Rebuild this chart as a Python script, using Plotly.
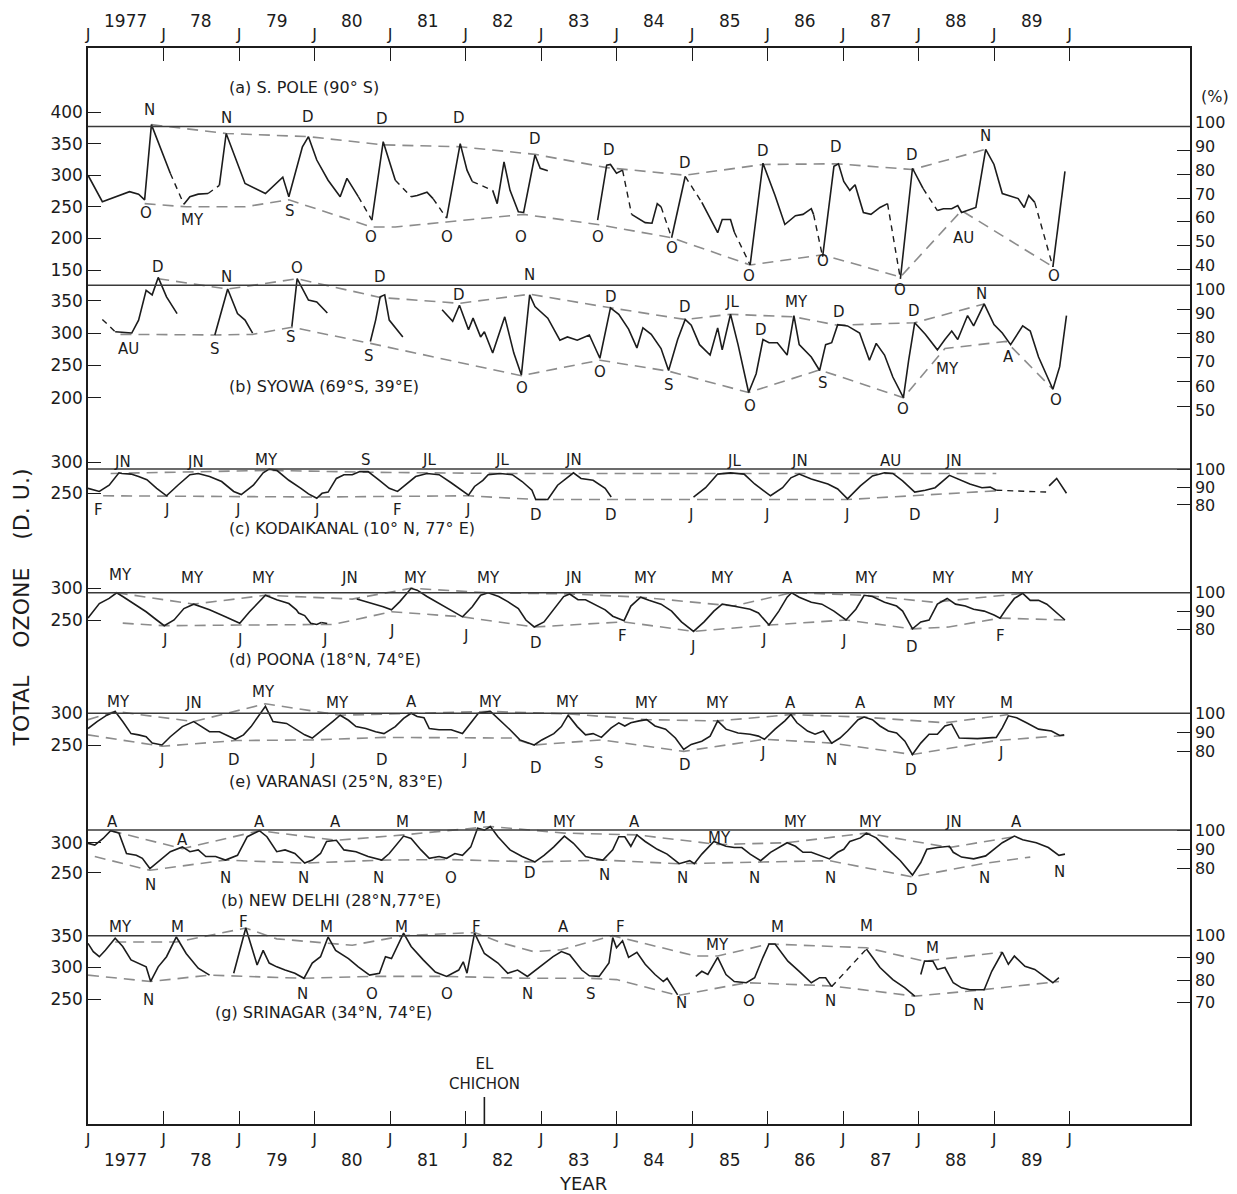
import plotly.graph_objects as go

# ---------------- axis labels ----------------
year_starts = list(range(1977, 1990))
year_text = ["1977", "78", "79", "80", "81", "82", "83", "84", "85", "86", "87", "88", "89"]
jan_ticks = list(range(1977, 1991))
jan_text = ["J"] * len(jan_ticks)
el_chichon_t = 1982.25

# ---------------- (a) South Pole ----------------
spole_t = [1977.00, 1977.19, 1977.55, 1977.67, 1977.75, 1977.84, 1978.09, 1978.27, 1978.35, 1978.46,
           1978.59, 1978.74, 1978.83, 1979.08, 1979.35, 1979.58, 1979.66, 1979.84, 1979.92, 1980.03,
           1980.18, 1980.34, 1980.43, 1980.58, 1980.76, 1980.91, 1981.07, 1981.28, 1981.36, 1981.49,
           1981.57, 1981.75, 1981.93, 1982.02, 1982.09, 1982.36, 1982.42, 1982.51, 1982.59, 1982.70,
           1982.77, 1982.92, 1982.99, 1983.09, 1983.75, 1983.87, 1983.92, 1984.00, 1984.08, 1984.20,
           1984.27, 1984.38, 1984.47, 1984.54, 1984.59, 1984.73, 1984.91, 1985.13, 1985.34, 1985.40,
           1985.51, 1985.56, 1985.77, 1985.94, 1986.10, 1986.23, 1986.37, 1986.47, 1986.58, 1986.61,
           1986.73, 1986.88, 1986.94, 1987.01, 1987.09, 1987.16, 1987.27, 1987.37, 1987.49, 1987.59,
           1987.76, 1987.92, 1988.06, 1988.25, 1988.33, 1988.44, 1988.52, 1988.57, 1988.76, 1988.89,
           1989.00, 1989.11, 1989.32, 1989.40, 1989.46, 1989.54, 1989.78, 1989.94]
spole_v = [300, 258, 274, 270, 261, 380, 303, 254, 266, 270,
           271, 284, 366, 287, 271, 297, 266, 345, 361, 324,
           292, 266, 295, 266, 229, 353, 292, 266, 268, 273,
           263, 232, 350, 308, 290, 276, 255, 321, 276, 242,
           241, 332, 311, 307, 229, 316, 317, 303, 308, 238,
           233, 225, 224, 255, 250, 201, 298, 257, 209, 230,
           230, 210, 158, 319, 268, 222, 236, 238, 247, 238,
           171, 314, 318, 290, 276, 285, 241, 238, 249, 255,
           136, 311, 279, 244, 247, 247, 252, 241, 249, 341,
           317, 271, 263, 249, 268, 257, 155, 306]
# segment leading into each point: m = measured, i = interpolated, _ = no data
spole_q = "-mmmmmmimm mimmmmmmmm mmmmimmimm mimmmimmmm mmmm_mmmmi mmmmmimimm mmimmmmmmm immmmmmmmm immimmmmmm mmmmmmim"
spole_up_t = [1977.84, 1978.83, 1979.92, 1980.91, 1981.93, 1982.92, 1983.87, 1984.91, 1985.94, 1986.91, 1987.92, 1988.89]
spole_up_v = [380, 366, 361, 348, 345, 333, 312, 300, 317, 318, 309, 341]
spole_lo_t = [1977.75, 1978.30, 1979.08, 1979.66, 1980.76, 1981.07, 1981.75, 1982.77, 1983.75, 1984.73,
              1985.77, 1986.20, 1986.73, 1987.76, 1988.57, 1989.78]
spole_lo_v = [255, 250, 250, 261, 218, 218, 226, 238, 222, 201, 158, 165, 174, 139, 244, 155]
spole_lab = [(1977.82, "N", 403), (1978.83, "N", 390), (1979.92, "D", 392), (1980.89, "D", 389),
             (1981.91, "D", 391), (1982.92, "D", 358), (1983.90, "D", 340), (1984.91, "D", 319),
             (1985.94, "D", 338), (1986.91, "D", 344), (1987.91, "D", 332), (1988.89, "N", 362),
             (1977.77, "O", 240), (1978.38, "MY", 229), (1979.68, "S", 244), (1980.75, "O", 202),
             (1981.76, "O", 203), (1982.74, "O", 203), (1983.75, "O", 203), (1984.74, "O", 185),
             (1985.76, "O", 140), (1986.74, "O", 165), (1987.75, "O", 118), (1988.60, "AU", 201),
             (1989.79, "O", 141)]

# ---------------- (b) Syowa ----------------
syowa_t = [1977.19, 1977.36, 1977.58, 1977.67, 1977.77, 1977.85, 1977.93, 1978.04, 1978.18, 1978.68,
           1978.85, 1978.98, 1979.08, 1979.18, 1979.70, 1979.77, 1979.92, 1980.03, 1980.17, 1980.74,
           1980.81, 1980.87, 1980.93, 1980.99, 1981.17, 1981.69, 1981.83, 1981.92, 1982.04, 1982.10,
           1982.20, 1982.25, 1982.36, 1982.52, 1982.64, 1982.74, 1982.85, 1982.92, 1983.09, 1983.25,
           1983.35, 1983.48, 1983.64, 1983.78, 1983.92, 1984.03, 1984.16, 1984.27, 1984.35, 1984.46,
           1984.59, 1984.69, 1984.81, 1984.91, 1984.99, 1985.10, 1985.24, 1985.34, 1985.40, 1985.51,
           1985.61, 1985.75, 1985.85, 1985.94, 1986.02, 1986.13, 1986.26, 1986.35, 1986.42, 1986.58,
           1986.69, 1986.77, 1986.85, 1986.93, 1987.06, 1987.22, 1987.35, 1987.44, 1987.55, 1987.66,
           1987.80, 1987.87, 1987.95, 1988.09, 1988.25, 1988.35, 1988.44, 1988.52, 1988.65, 1988.73,
           1988.87, 1989.00, 1989.11, 1989.22, 1989.38, 1989.48, 1989.59, 1989.78, 1989.87, 1989.96]
syowa_v = [321, 302, 300, 320, 366, 359, 386, 356, 330, 297,
           368, 330, 320, 300, 310, 384, 351, 348, 331, 287,
           320, 356, 359, 320, 294, 336, 318, 343, 305, 323,
           294, 302, 269, 325, 269, 235, 359, 341, 323, 289,
           294, 289, 297, 261, 339, 329, 306, 277, 308, 298,
           276, 242, 290, 321, 312, 282, 266, 308, 274, 329,
           282, 208, 237, 290, 285, 285, 266, 327, 282, 263,
           242, 282, 285, 313, 311, 300, 258, 284, 266, 232,
           200, 258, 316, 298, 274, 290, 303, 290, 327, 311,
           345, 313, 300, 282, 311, 303, 263, 213, 248, 327]
syowa_q = "-immmmmmm_ mmmm_mmmm_ mmmmm_mmmm mmmmmmmmmm mmmmmmmmmm mmmmmmmmmm mmmmmmmmmm mmmmmmmmmm mmmmmmmmmm mmmmmmmmmm"
syowa_up_t = [1977.93, 1978.85, 1979.77, 1980.87, 1981.92, 1982.85, 1983.92, 1984.91, 1985.51, 1986.35, 1986.93, 1987.95, 1988.87]
syowa_up_v = [384, 368, 384, 355, 346, 360, 339, 321, 329, 325, 312, 316, 345]
syowa_lo_t = [1977.43, 1978.68, 1979.18, 1979.70, 1980.74, 1982.74, 1983.78, 1984.69, 1985.75, 1986.69,
              1987.80, 1988.35, 1989.16, 1989.78]
syowa_lo_v = [298, 297, 298, 309, 284, 234, 258, 241, 208, 243, 200, 276, 287, 213]
syowa_lab = [(1977.93, "D", 402), (1978.83, "N", 387), (1979.77, "O", 400), (1980.87, "D", 387),
             (1981.91, "D", 359), (1982.85, "N", 390), (1983.93, "D", 356), (1984.91, "D", 340),
             (1985.53, "JL", 348), (1985.92, "D", 305), (1986.38, "MY", 348), (1986.95, "D", 333),
             (1987.94, "D", 334), (1988.84, "N", 361),
             (1977.54, "AU", 276), (1978.68, "S", 276), (1979.69, "S", 294), (1980.72, "S", 264),
             (1982.75, "O", 215), (1983.78, "O", 240), (1984.70, "S", 219), (1985.77, "O", 187),
             (1986.73, "S", 222), (1987.79, "O", 182), (1988.38, "MY", 245), (1989.19, "A", 263),
             (1989.82, "O", 196)]

# ---------------- (c) Kodaikanal ----------------
kodai_t = [1977.00, 1977.15, 1977.28, 1977.41, 1977.45, 1977.57, 1977.67, 1977.78, 1977.91, 1978.04,
           1978.19, 1978.35, 1978.46, 1978.61, 1978.77, 1978.93, 1979.03, 1979.19, 1979.32, 1979.40,
           1979.50, 1979.66, 1979.82, 1979.92, 1980.03, 1980.10, 1980.18, 1980.29, 1980.39, 1980.50,
           1980.60, 1980.71, 1980.86, 1980.99, 1981.10, 1981.20, 1981.34, 1981.49, 1981.65, 1981.81,
           1981.96, 1982.04, 1982.12, 1982.23, 1982.30, 1982.46, 1982.62, 1982.75, 1982.88, 1982.93,
           1983.09, 1983.22, 1983.43, 1983.53, 1983.69, 1983.85, 1983.93, 1985.02, 1985.18, 1985.34,
           1985.51, 1985.69, 1985.83, 1986.04, 1986.20, 1986.31, 1986.42, 1986.58, 1986.80, 1986.93,
           1987.06, 1987.23, 1987.39, 1987.55, 1987.66, 1987.79, 1987.95, 1988.09, 1988.22, 1988.41,
           1988.52, 1988.68, 1988.84, 1988.95, 1989.03, 1989.69, 1989.73, 1989.83, 1989.96]
kodai_v = [258, 253, 263, 283, 282, 281, 277, 272, 258, 246,
           263, 280, 282, 277, 269, 253, 248, 263, 283, 289,
           287, 271, 258, 249, 242, 250, 252, 274, 280, 280,
           285, 285, 271, 258, 253, 263, 277, 282, 280, 267,
           253, 247, 261, 271, 280, 282, 280, 269, 255, 240,
           240, 263, 283, 274, 271, 258, 244, 244, 259, 281,
           283, 281, 265, 246, 259, 275, 281, 273, 265, 257,
           241, 262, 278, 283, 282, 270, 252, 255, 259, 279,
           273, 265, 259, 260, 255, 252, 262, 274, 250]
kodai_q = "-mmmmmmmmm mmmmmmmmmm mmmmmmmmmm mmmmmmmmmm mmmmmmmmmm mmmmmmm_mm mmmmmmmmmm mmmmmmmmmm mmmmmi_mm"
kodai_up_t = [1977.30, 1979.40, 1980.71, 1982.46, 1983.93, 1985.34, 1987.55, 1989.03]
kodai_up_v = [282, 287, 284, 282, 282, 282, 283, 282]
kodai_lo_t = [1977.20, 1980.03, 1982.04, 1982.93, 1987.06, 1989.03]
kodai_lo_v = [246, 244, 246, 240, 240, 254]
kodai_lab = [(1977.46, "JN", 301), (1978.43, "JN", 301), (1979.37, "MY", 304), (1980.68, "S", 304),
             (1981.52, "JL", 304), (1982.49, "JL", 304), (1983.43, "JN", 304), (1985.55, "JL", 302),
             (1986.42, "JN", 302), (1987.63, "AU", 302), (1988.46, "JN", 302),
             (1977.14, "F", 223), (1978.04, "J", 223), (1978.98, "J", 223), (1980.03, "J", 223),
             (1981.10, "F", 223), (1982.02, "J", 223), (1982.94, "D", 215), (1983.93, "D", 215),
             (1984.98, "J", 215), (1985.99, "J", 215), (1987.04, "J", 215), (1987.95, "D", 215),
             (1989.03, "J", 215)]

# ---------------- (d) Poona ----------------
poona_t = [1977.00, 1977.15, 1977.28, 1977.38, 1977.46, 1977.62, 1977.77, 1977.91, 1978.01, 1978.14,
           1978.27, 1978.40, 1978.61, 1978.82, 1979.01, 1979.14, 1979.35, 1979.50, 1979.66, 1979.76,
           1979.79, 1979.87, 1979.95, 1980.03, 1980.09, 1980.20, 1980.56, 1980.77, 1980.91, 1981.02,
           1981.13, 1981.28, 1981.36, 1981.49, 1981.65, 1981.81, 1981.96, 1982.09, 1982.20, 1982.30,
           1982.44, 1982.56, 1982.70, 1982.80, 1982.91, 1983.04, 1983.17, 1983.30, 1983.38, 1983.49,
           1983.59, 1983.69, 1983.85, 1983.95, 1984.10, 1984.19, 1984.32, 1984.43, 1984.59, 1984.73,
           1984.86, 1985.02, 1985.16, 1985.29, 1985.40, 1985.51, 1985.64, 1985.77, 1985.88, 1986.02,
           1986.15, 1986.26, 1986.32, 1986.42, 1986.58, 1986.72, 1986.88, 1987.04, 1987.17, 1987.28,
           1987.39, 1987.55, 1987.71, 1987.79, 1987.92, 1988.03, 1988.14, 1988.25, 1988.38, 1988.49,
           1988.62, 1988.73, 1988.87, 1989.00, 1989.08, 1989.16, 1989.27, 1989.38, 1989.48, 1989.59,
           1989.70, 1989.81, 1989.94]
poona_v = [253, 276, 284, 293, 287, 275, 263, 250, 241, 250,
           268, 275, 266, 255, 245, 263, 289, 282, 276, 266,
           261, 257, 245, 243, 246, 244, 283, 276, 271, 266,
           279, 300, 297, 287, 276, 266, 255, 271, 289, 293,
           287, 279, 268, 250, 239, 247, 268, 287, 291, 282,
           282, 276, 266, 256, 249, 272, 286, 281, 275, 264,
           247, 232, 247, 264, 275, 273, 270, 267, 261, 242,
           264, 286, 293, 286, 278, 275, 264, 250, 267, 289,
           287, 278, 272, 264, 236, 247, 250, 275, 284, 275,
           272, 267, 264, 258, 253, 267, 284, 292, 281, 281,
           275, 264, 250]
poona_q = "-mmmmmmmmm mmmmmmmmmm mmmmmi_mmm mmmmmmmmmm mmmmmmmmmm mmmmmmmmmm mmmmmmmmmm mmmmmmmmmm mmmmmmmmmm mmmmmmmmmm mmm"
poona_up_t = [1977.38, 1978.40, 1979.35, 1980.50, 1981.28, 1982.30, 1983.38, 1984.32, 1985.55, 1986.32, 1987.28, 1988.20, 1989.38]
poona_up_v = [293, 275, 289, 283, 300, 293, 291, 286, 272, 293, 289, 278, 292]
poona_lo_t = [1977.46, 1978.01, 1979.01, 1980.03, 1980.25, 1981.02, 1981.96, 1982.91, 1983.95, 1984.10,
              1985.02, 1986.02, 1987.04, 1987.92, 1988.40, 1989.08, 1989.94]
poona_lo_v = [245, 241, 242, 242, 243, 263, 255, 239, 247, 247, 232, 242, 250, 236, 239, 253, 250]
poona_lab = [(1977.43, "MY", 321), (1978.38, "MY", 316), (1979.32, "MY", 316), (1980.47, "JN", 316),
             (1981.34, "MY", 316), (1982.30, "MY", 316), (1983.43, "JN", 316), (1984.38, "MY", 317),
             (1985.40, "MY", 317), (1986.26, "A", 317), (1987.31, "MY", 317), (1988.33, "MY", 317),
             (1989.38, "MY", 317),
             (1978.01, "J", 218), (1979.01, "J", 218), (1980.13, "J", 218), (1981.02, "J", 232),
             (1982.00, "J", 224), (1982.93, "D", 213), (1984.08, "F", 225), (1985.01, "J", 208),
             (1985.95, "J", 219), (1987.01, "J", 217), (1987.91, "D", 208), (1989.08, "F", 225)]

# ---------------- (e) Varanasi ----------------
varan_t = [1977.00, 1977.12, 1977.25, 1977.36, 1977.46, 1977.57, 1977.67, 1977.77, 1977.85, 1977.98,
           1978.09, 1978.25, 1978.40, 1978.51, 1978.61, 1978.74, 1978.87, 1978.95, 1979.06, 1979.16,
           1979.35, 1979.45, 1979.63, 1979.76, 1979.87, 1979.97, 1980.08, 1980.24, 1980.34, 1980.45,
           1980.55, 1980.68, 1980.81, 1980.92, 1981.07, 1981.18, 1981.28, 1981.36, 1981.45, 1981.52,
           1981.65, 1981.81, 1981.96, 1982.07, 1982.17, 1982.33, 1982.43, 1982.59, 1982.72, 1982.91,
           1983.01, 1983.17, 1983.27, 1983.36, 1983.48, 1983.59, 1983.69, 1983.80, 1983.93, 1984.03,
           1984.11, 1984.19, 1984.30, 1984.40, 1984.51, 1984.65, 1984.78, 1984.89, 1984.99, 1985.13,
           1985.24, 1985.34, 1985.45, 1985.61, 1985.77, 1985.88, 1985.96, 1986.10, 1986.23, 1986.31,
           1986.39, 1986.53, 1986.63, 1986.74, 1986.85, 1986.96, 1987.06, 1987.20, 1987.28, 1987.39,
           1987.49, 1987.60, 1987.71, 1987.82, 1987.92, 1988.03, 1988.14, 1988.25, 1988.35, 1988.44,
           1988.54, 1988.78, 1989.03, 1989.11, 1989.19, 1989.30, 1989.43, 1989.59, 1989.76, 1989.87,
           1989.93]
varan_v = [276, 287, 297, 303, 287, 268, 266, 263, 253, 250,
           263, 279, 287, 279, 271, 271, 263, 259, 266, 279,
           311, 287, 284, 274, 266, 261, 271, 287, 297, 289,
           279, 276, 271, 268, 279, 292, 300, 295, 293, 276,
           274, 274, 268, 284, 300, 303, 292, 274, 258, 250,
           258, 268, 279, 297, 279, 266, 268, 262, 277, 285,
           280, 285, 288, 290, 280, 275, 261, 243, 251, 256,
           264, 288, 275, 269, 267, 264, 259, 275, 288, 298,
           285, 272, 267, 272, 253, 261, 272, 290, 294, 290,
           280, 272, 269, 256, 235, 253, 267, 267, 280, 283,
           261, 260, 262, 277, 296, 293, 285, 275, 272, 265,
           266]
varan_q = None
varan_up_t = [1977.00, 1977.36, 1978.40, 1979.35, 1980.34, 1981.28, 1982.33, 1983.36, 1984.40, 1985.34, 1986.31, 1987.28, 1988.35, 1989.19]
varan_up_v = [290, 303, 287, 315, 297, 300, 303, 299, 290, 288, 298, 294, 285, 298]
varan_lo_t = [1977.00, 1977.98, 1978.95, 1979.97, 1980.92, 1981.96, 1982.60, 1982.91, 1983.80, 1984.89,
              1985.96, 1986.85, 1987.92, 1989.03, 1989.93]
varan_lo_v = [266, 248, 257, 258, 262, 262, 261, 250, 258, 240, 259, 253, 235, 257, 265]
varan_lab = [(1977.41, "MY", 318), (1978.40, "JN", 316), (1979.32, "MY", 334), (1980.31, "MY", 316),
             (1981.28, "A", 318), (1982.33, "MY", 318), (1983.35, "MY", 318), (1984.40, "MY", 317),
             (1985.34, "MY", 317), (1986.31, "A", 317), (1987.23, "A", 317), (1988.35, "MY", 317),
             (1989.16, "M", 317),
             (1977.98, "J", 226), (1978.93, "D", 226), (1979.97, "J", 226), (1980.89, "D", 226),
             (1981.99, "J", 226), (1982.93, "D", 213), (1983.77, "S", 221), (1984.91, "D", 219),
             (1985.94, "J", 237), (1986.85, "N", 227), (1987.90, "D", 211), (1989.08, "J", 237)]

# ---------------- (f) New Delhi ----------------
delhi_t = [1977.00, 1977.09, 1977.20, 1977.30, 1977.41, 1977.51, 1977.64, 1977.72, 1977.82, 1977.93,
           1978.09, 1978.25, 1978.35, 1978.46, 1978.56, 1978.69, 1978.82, 1978.98, 1979.11, 1979.27,
           1979.37, 1979.50, 1979.61, 1979.74, 1979.87, 1979.97, 1980.08, 1980.16, 1980.29, 1980.39,
           1980.55, 1980.71, 1980.89, 1980.99, 1981.10, 1981.18, 1981.28, 1981.41, 1981.52, 1981.65,
           1981.75, 1981.86, 1981.96, 1982.07, 1982.16, 1982.25, 1982.33, 1982.43, 1982.59, 1982.75,
           1982.92, 1983.04, 1983.17, 1983.31, 1983.43, 1983.59, 1983.69, 1983.82, 1983.95, 1984.03,
           1984.11, 1984.19, 1984.27, 1984.38, 1984.54, 1984.67, 1984.83, 1984.90, 1984.97, 1985.03,
           1985.13, 1985.29, 1985.35, 1985.45, 1985.56, 1985.66, 1985.77, 1985.91, 1986.04, 1986.18,
           1986.26, 1986.37, 1986.47, 1986.58, 1986.72, 1986.82, 1986.93, 1987.01, 1987.09, 1987.23,
           1987.31, 1987.44, 1987.60, 1987.76, 1987.92, 1988.03, 1988.11, 1988.25, 1988.41, 1988.46,
           1988.57, 1988.73, 1988.89, 1989.11, 1989.27, 1989.38, 1989.56, 1989.72, 1989.86, 1989.94]
delhi_v = [299, 296, 307, 320, 316, 282, 279, 274, 257, 268,
           285, 293, 285, 288, 277, 277, 271, 279, 310, 320,
           310, 285, 288, 282, 266, 271, 282, 302, 304, 288,
           285, 277, 271, 282, 299, 311, 307, 288, 274, 277,
           274, 282, 279, 293, 324, 321, 327, 310, 288, 277,
           268, 279, 293, 311, 299, 277, 274, 271, 288, 310,
           310, 294, 313, 302, 289, 281, 265, 268, 270, 265,
           281, 302, 299, 294, 292, 292, 281, 270, 284, 294,
           300, 294, 284, 284, 278, 273, 284, 289, 302, 308,
           316, 308, 289, 270, 246, 267, 289, 292, 294, 284,
           276, 273, 278, 300, 311, 305, 300, 292, 279, 281]
delhi_q = None
delhi_up_t = [1977.30, 1978.25, 1979.27, 1980.29, 1981.18, 1982.33, 1983.31, 1984.27, 1985.35, 1986.26, 1987.31, 1988.41, 1989.27]
delhi_up_v = [320, 290, 320, 304, 313, 327, 316, 313, 297, 300, 316, 292, 310]
delhi_lo_t = [1977.09, 1977.82, 1978.82, 1979.87, 1980.89, 1981.75, 1982.92, 1983.82, 1984.83, 1985.91,
              1986.82, 1987.92, 1988.84, 1989.48]
delhi_lo_v = [277, 254, 271, 266, 271, 272, 268, 271, 265, 268, 270, 243, 265, 276]
delhi_lab = [(1977.33, "A", 335), (1978.25, "A", 304), (1979.27, "A", 335), (1980.28, "A", 335),
             (1981.17, "M", 335), (1982.19, "M", 341), (1983.31, "MY", 335), (1984.24, "A", 334),
             (1985.37, "MY", 308), (1986.37, "MY", 334), (1987.36, "MY", 334), (1988.46, "JN", 334),
             (1989.30, "A", 334),
             (1977.83, "N", 229), (1978.82, "N", 241), (1979.86, "N", 241), (1980.85, "N", 241),
             (1981.81, "O", 241), (1982.86, "D", 249), (1983.84, "N", 246), (1984.88, "N", 241),
             (1985.83, "N", 241), (1986.84, "N", 241), (1987.91, "D", 222), (1988.87, "N", 241),
             (1989.87, "N", 251)]

# ---------------- (g) Srinagar ----------------
srin_t = [1977.00, 1977.07, 1977.15, 1977.23, 1977.36, 1977.46, 1977.57, 1977.67, 1977.77, 1977.83,
          1977.93, 1978.04, 1978.17, 1978.30, 1978.46, 1978.61, 1978.93, 1979.09, 1979.24, 1979.32,
          1979.40, 1979.50, 1979.61, 1979.74, 1979.86, 1979.97, 1980.08, 1980.18, 1980.28, 1980.45,
          1980.58, 1980.73, 1980.86, 1980.94, 1981.02, 1981.18, 1981.28, 1981.44, 1981.60, 1981.75,
          1981.91, 1981.97, 1982.02, 1982.12, 1982.25, 1982.43, 1982.56, 1982.69, 1982.82, 1982.98,
          1983.16, 1983.27, 1983.38, 1983.54, 1983.64, 1983.77, 1983.90, 1983.95, 1984.00, 1984.08,
          1984.16, 1984.27, 1984.38, 1984.51, 1984.62, 1984.67, 1984.81, 1985.05, 1985.13, 1985.21,
          1985.34, 1985.45, 1985.56, 1985.72, 1985.83, 1985.94, 1986.02, 1986.10, 1986.27, 1986.42,
          1986.58, 1986.69, 1986.77, 1986.85, 1987.31, 1987.49, 1987.66, 1987.82, 1987.95, 1988.03,
          1988.08, 1988.19, 1988.25, 1988.35, 1988.46, 1988.57, 1988.68, 1988.87, 1988.97, 1989.11,
          1989.19, 1989.27, 1989.41, 1989.54, 1989.67, 1989.78, 1989.86]
srin_v = [338, 325, 317, 327, 346, 333, 312, 307, 301, 278,
          301, 317, 348, 322, 299, 288, 291, 362, 304, 327,
          307, 301, 296, 291, 283, 307, 317, 348, 327, 314,
          301, 288, 291, 317, 314, 354, 333, 312, 293, 286,
          296, 309, 291, 354, 322, 307, 291, 296, 286, 301,
          317, 325, 320, 296, 287, 286, 307, 347, 331, 342,
          316, 324, 305, 289, 278, 283, 257, 286, 294, 289,
          316, 289, 278, 276, 284, 316, 337, 337, 310, 294,
          276, 284, 284, 270, 329, 300, 281, 268, 255, 289,
          310, 310, 297, 300, 276, 268, 265, 265, 294, 324,
          305, 318, 302, 297, 286, 276, 284]
srin_q = "-mmmmmmmmm mmmmmm_mmm mmmmmmmmmm mmmmmmmmmm mmmmmmmmmm mmmmmmmmmm mmmmmmm_mm mmmmmmmmmm mmmmimmmm_ mmmmmmmmmm mmmmmmm"
srin_up_t = [1977.36, 1978.17, 1979.09, 1979.50, 1980.50, 1981.18, 1982.12, 1982.50, 1982.90, 1983.27,
             1983.95, 1985.05, 1985.34, 1986.02, 1987.31, 1988.08, 1989.11]
srin_up_v = [340, 340, 362, 345, 335, 350, 355, 338, 325, 328, 350, 318, 318, 337, 331, 310, 324]
srin_lo_t = [1977.00, 1977.83, 1978.61, 1979.86, 1980.73, 1981.75, 1982.82, 1983.64, 1984.00, 1984.81,
             1985.72, 1986.85, 1987.95, 1988.68, 1989.86]
srin_lo_v = [288, 278, 288, 283, 286, 286, 283, 283, 281, 256, 276, 271, 255, 263, 278]
srin_lab = [(1977.43, "MY", 364), (1978.19, "M", 364), (1979.06, "F", 372), (1980.16, "M", 364),
            (1981.15, "M", 364), (1982.15, "F", 364), (1983.30, "A", 364), (1984.05, "F", 363),
            (1985.34, "MY", 336), (1986.13, "M", 364), (1987.31, "M", 366), (1988.19, "M", 331),
            (1977.80, "N", 249), (1979.84, "N", 259), (1980.76, "O", 259), (1981.75, "O", 259),
            (1982.82, "N", 259), (1983.66, "S", 259), (1984.86, "N", 244), (1985.75, "O", 247),
            (1986.83, "N", 247), (1987.89, "D", 231), (1988.79, "N", 241)]

# ---------------- panel definitions ----------------
stations = [
    dict(title="(a) S. POLE (90° S)", t=spole_t, v=spole_v, q=spole_q, ut=spole_up_t, uv=spole_up_v,
         lt=spole_lo_t, lv=spole_lo_v, lab=spole_lab, ref=377,
         du_ticks=[150, 200, 250, 300, 350, 400], pct_ticks=[40, 50, 60, 70, 80, 90, 100]),
    dict(title="(b) SYOWA (69°S, 39°E)", t=syowa_t, v=syowa_v, q=syowa_q, ut=syowa_up_t, uv=syowa_up_v,
         lt=syowa_lo_t, lv=syowa_lo_v, lab=syowa_lab, ref=374,
         du_ticks=[200, 250, 300, 350], pct_ticks=[50, 60, 70, 80, 90, 100]),
    dict(title="(c) KODAIKANAL (10° N, 77° E)", t=kodai_t, v=kodai_v, q=kodai_q, ut=kodai_up_t, uv=kodai_up_v,
         lt=kodai_lo_t, lv=kodai_lo_v, lab=kodai_lab, ref=289,
         du_ticks=[250, 300], pct_ticks=[80, 90, 100]),
    dict(title="(d) POONA (18°N, 74°E)", t=poona_t, v=poona_v, q=poona_q, ut=poona_up_t, uv=poona_up_v,
         lt=poona_lo_t, lv=poona_lo_v, lab=poona_lab, ref=293,
         du_ticks=[250, 300], pct_ticks=[80, 90, 100]),
    dict(title="(e) VARANASI (25°N, 83°E)", t=varan_t, v=varan_v, q=varan_q, ut=varan_up_t, uv=varan_up_v,
         lt=varan_lo_t, lv=varan_lo_v, lab=varan_lab, ref=300,
         du_ticks=[250, 300], pct_ticks=[80, 90, 100]),
    dict(title="(b) NEW DELHI (28°N,77°E)", t=delhi_t, v=delhi_v, q=delhi_q, ut=delhi_up_t, uv=delhi_up_v,
         lt=delhi_lo_t, lv=delhi_lo_v, lab=delhi_lab, ref=321,
         du_ticks=[250, 300], pct_ticks=[80, 90, 100]),
    dict(title="(g) SRINAGAR (34°N, 74°E)", t=srin_t, v=srin_v, q=srin_q, ut=srin_up_t, uv=srin_up_v,
         lt=srin_lo_t, lv=srin_lo_v, lab=srin_lab, ref=350,
         du_ticks=[250, 300, 350], pct_ticks=[70, 80, 90, 100]),
]

# ---------------- layout geometry (page pixels) ----------------
W, H = 1237, 1194
PL, PR, PT, PB = 88, 1190, 48, 1124          # plot-area edges
PX_PER_YEAR = 75.5
X0 = 1977.0
X1 = X0 + (PR - PL) / PX_PER_YEAR
# two reference ticks of each panel's left scale: (value, pixel, value, pixel)
calib = [(400, 112, 150, 270), (350, 300.7, 200, 397.7), (300, 462.3, 250, 493.3),
         (300, 588.3, 250, 620), (300, 713.3, 250, 745), (300, 842.7, 250, 872.7),
         (350, 935.7, 250, 999.3)]
title_anchor = [(1978.84, 438), (1978.84, 217), (1978.84, 194), (1978.84, 187),
                (1978.84, 192), (1978.73, 204), (1978.66, 230)]
# small vertical nudges (px) of the percent labels so adjacent panels' labels don't collide
pct_label_shift = [-4, 4, 0, 0, 0, 0, 0]

FONT = "DejaVu Sans"
INK = "#1c1c1c"


def segments(ts, vs, q, kind):
    flags = ("-" + "m" * (len(ts) - 1)) if q is None else q.replace(" ", "")
    xs, ys, last = [], [], None
    for i in range(1, len(ts)):
        c = flags[i] if i < len(flags) else "m"
        if c != kind:
            continue
        if last != i - 1:
            if xs:
                xs.append(None)
                ys.append(None)
            xs.append(ts[i - 1])
            ys.append(vs[i - 1])
        xs.append(ts[i])
        ys.append(vs[i])
        last = i
    return xs, ys


fig = go.Figure()
layout = {}
shapes = []
annotations = []

for k, st in enumerate(stations):
    va, pa, vb, pb = calib[k]
    s = (pb - pa) / (va - vb)
    top = va + (pa - PT) / s
    bot = va - (PB - pa) / s
    lid = k + 1
    rid = k + 8
    yref = "y" if lid == 1 else f"y{lid}"
    lkey = "yaxis" if lid == 1 else f"yaxis{lid}"
    rkey = f"yaxis{rid}"
    common = dict(domain=[0, 1], anchor="x", showgrid=False, zeroline=False,
                  ticks="inside", ticklen=13, tickwidth=1.4, tickcolor=INK,
                  showline=True, linecolor=INK, linewidth=1.5)
    ld = dict(common, range=[bot, top], side="left", tickmode="array",
              tickvals=st["du_ticks"], ticktext=[str(x) for x in st["du_ticks"]],
              tickfont=dict(family=FONT, size=17, color=INK))
    if lid != 1:
        ld["overlaying"] = "y"
    layout[lkey] = ld
    layout[rkey] = dict(common, range=[bot * 100 / st["ref"], top * 100 / st["ref"]], side="right",
                        overlaying="y", tickmode="array", tickvals=st["pct_ticks"],
                        ticktext=[str(x) for x in st["pct_ticks"]],
                        ticklabelshift=pct_label_shift[k],
                        tickfont=dict(family=FONT, size=16, color=INK))
    # empty trace so that the percent axis is drawn
    fig.add_trace(go.Scatter(x=[None], y=[None], mode="lines", xaxis="x", yaxis=f"y{rid}",
                             showlegend=False, hoverinfo="skip"))

    # 100 % reference line
    shapes.append(dict(type="line", xref="paper", x0=0, x1=1, yref=yref, y0=st["ref"], y1=st["ref"],
                       line=dict(color="#3a3a3a", width=1.5)))

    # envelopes
    for et, ev in ((st["ut"], st["uv"]), (st["lt"], st["lv"])):
        fig.add_trace(go.Scatter(x=et, y=ev, mode="lines", yaxis=yref, xaxis="x", showlegend=False,
                                 line=dict(color="#8c8c8c", width=1.6, dash="11px,7px"),
                                 hoverinfo="skip"))
    # interpolated (dashed) parts
    ix, iy = segments(st["t"], st["v"], st["q"], "i")
    if ix:
        fig.add_trace(go.Scatter(x=ix, y=iy, mode="lines", yaxis=yref, xaxis="x", showlegend=False,
                                 line=dict(color=INK, width=1.4, dash="6px,5px"), connectgaps=False))
    # measured series
    mx, my = segments(st["t"], st["v"], st["q"], "m")
    fig.add_trace(go.Scatter(x=mx, y=my, mode="lines", yaxis=yref, xaxis="x", showlegend=False,
                             line=dict(color=INK, width=1.6), connectgaps=False))

    # month labels
    for (lt, txt, lv) in st["lab"]:
        annotations.append(dict(x=lt, y=lv, xref="x", yref=yref, text=txt, showarrow=False,
                                font=dict(family=FONT, size=15, color=INK),
                                xanchor="center", yanchor="middle"))
    # panel title
    tx, ty = title_anchor[k]
    annotations.append(dict(x=tx, y=ty, xref="x", yref=yref, text=st["title"], showarrow=False,
                            font=dict(family=FONT, size=16, color=INK), xanchor="left", yanchor="middle"))

# x axes (bottom and top)
xcommon = dict(range=[X0, X1], tickmode="array", tickvals=jan_ticks, ticktext=jan_text,
               ticks="inside", ticklen=13, tickwidth=1.4, tickcolor=INK, showgrid=False,
               zeroline=False, showline=True, linecolor=INK, linewidth=1.5,
               tickfont=dict(family=FONT, size=16, color=INK))
layout["xaxis"] = dict(xcommon, side="bottom", anchor="y")
layout["xaxis2"] = dict(xcommon, side="top", anchor="y", overlaying="x")
fig.add_trace(go.Scatter(x=[None], y=[None], mode="lines", xaxis="x2", yaxis="y",
                         showlegend=False, hoverinfo="skip"))

# year labels (top and bottom)
for ys_, yt in zip(year_starts, year_text):
    annotations.append(dict(x=ys_ + 0.5, y=1, xref="x", yref="paper", yshift=27, yanchor="middle",
                            text=yt, showarrow=False, font=dict(family=FONT, size=17, color=INK)))
    annotations.append(dict(x=ys_ + 0.5, y=0, xref="x", yref="paper", yshift=-36, yanchor="middle",
                            text=yt, showarrow=False, font=dict(family=FONT, size=17, color=INK)))

annotations.append(dict(x=1983.55, y=0, xref="x", yref="paper", yshift=-59, yanchor="middle",
                        text="YEAR", showarrow=False, font=dict(family=FONT, size=18, color=INK)))
annotations.append(dict(x=0, y=0.48, xref="paper", yref="paper", xshift=-66, xanchor="center",
                        yanchor="middle", text="TOTAL    OZONE    (D. U.)",
                        textangle=-90, showarrow=False, font=dict(family=FONT, size=22, color=INK)))
annotations.append(dict(x=1, y=424, xref="paper", yref="y", xshift=25, xanchor="center",
                        yanchor="middle", text="(%)",
                        showarrow=False, font=dict(family=FONT, size=16, color=INK)))
annotations.append(dict(x=el_chichon_t, y=0, xref="x", yref="paper", yshift=29, yanchor="bottom",
                        text="EL<br>CHICHON", showarrow=False,
                        font=dict(family=FONT, size=15, color=INK)))
shapes.append(dict(type="line", xref="x", x0=el_chichon_t, x1=el_chichon_t, yref="paper", y0=0,
                   y1=27 / (PB - PT), line=dict(color=INK, width=1.6)))

fig.update_layout(**layout)
fig.update_layout(width=W, height=H, margin=dict(l=PL, r=W - PR, t=PT, b=H - PB),
                  paper_bgcolor="white", plot_bgcolor="white", shapes=shapes,
                  annotations=annotations, showlegend=False,
                  font=dict(family=FONT, color=INK))

fig.write_html("out.html")
